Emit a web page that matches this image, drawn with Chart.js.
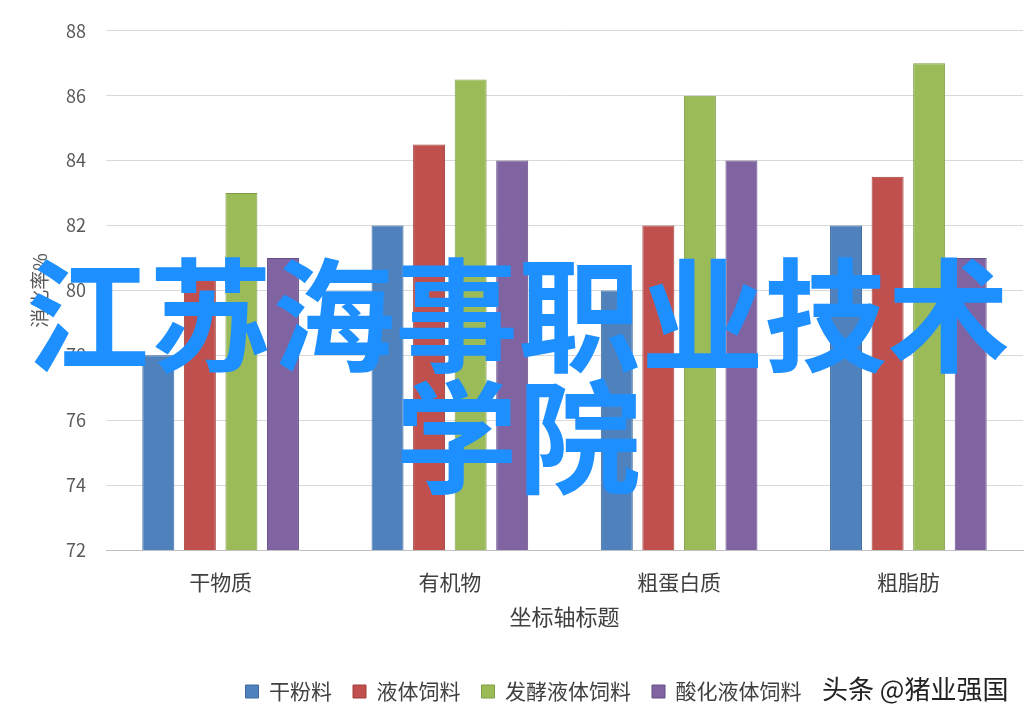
<!DOCTYPE html>
<html lang="zh">
<head>
<meta charset="UTF-8" />
<title>消化率</title>
<script src="https://cdn.jsdelivr.net/npm/chart.js@4/dist/chart.umd.min.js"></script>
<style>
  html, body { margin: 0; padding: 0; background: #fff; }
  #wrap { position: relative; width: 1036px; height: 720px; }
  #overlay {
    position: absolute; left: 0; top: 247px; width: 1036px;
    text-align: center; color: #1e8fff;
    font-family: "Noto Sans CJK SC", sans-serif; font-weight: 700;
    font-size: 123px; line-height: 122px; pointer-events: none;
  }
  #mark {
    position: absolute; left: 822px; top: 669px;
    font-family: "Noto Sans CJK SC", sans-serif; font-size: 26px; color: #222;
  }
</style>
</head>
<body>
<div id="wrap">
  <canvas id="myChart" width="1036" height="720"></canvas>
  <div id="overlay">江苏海事职业技术<br>学院</div>
  <div id="mark">头条 @猪业强国</div>
</div>
<script>
const categories = ["干物质", "有机物", "粗蛋白质", "粗脂肪"];
const seriesNames = ["干粉料", "液体饲料", "发酵液体饲料", "酸化液体饲料"];
const dryFeed = [78, 82, 80, 82];
const liquidFeed = [80.5, 84.5, 82, 83.5];
const fermentedFeed = [83, 86.5, 86, 87];
const acidifiedFeed = [81, 84, 84, 81];
const yTicks = [72, 74, 76, 78, 80, 82, 84, 86, 88];

const colors = ["#4f81bd", "#c0504d", "#9bbb59", "#8064a2"];
const borders = ["#3f6a9e", "#a03f3c", "#7f9c45", "#664f86"];
const values = [dryFeed, liquidFeed, fermentedFeed, acidifiedFeed];

const font = "'Noto Sans CJK SC', 'Noto Sans', sans-serif";
const ctx = document.getElementById("myChart").getContext("2d");

new Chart(ctx, {
  type: "bar",
  data: {
    labels: categories,
    datasets: values.map((v, i) => ({
      label: seriesNames[i],
      data: v,
      backgroundColor: colors[i],
      borderColor: borders[i],
      borderWidth: 1,
      barPercentage: 0.77,
      categoryPercentage: 0.725,
    })),
  },
  options: {
    responsive: false,
    animation: false,
    layout: { padding: { left: 24, right: 13, top: 28, bottom: 8 } },
    plugins: {
      tooltip: { enabled: false },
      legend: {
        position: "bottom",
        labels: {
          boxWidth: 13,
          boxHeight: 13,
          padding: 21,
          color: "#404040",
          font: { family: font, size: 21 },
        },
      },
    },
    scales: {
      x: {
        grid: { display: false, drawTicks: false },
        border: { color: "#bfbfbf" },
        ticks: { color: "#404040", font: { family: font, size: 21 }, padding: 19 },
        title: { display: true, text: "坐标轴标题", color: "#404040", font: { family: font, size: 22 }, padding: { top: 4, bottom: 30 } },
        afterFit(scale) { scale.height = 110; },
      },
      y: {
        min: 72,
        max: 88,
        afterBuildTicks(scale) { scale.ticks = yTicks.map((v) => ({ value: v })); },
        grid: { color: "#d9d9d9", drawTicks: false },
        border: { display: false },
        ticks: { color: "#595959", font: { family: font, size: 18 }, padding: 20 },
        title: { display: true, text: "消化率%", color: "#595959", font: { family: font, size: 19 } },
        afterFit(scale) { scale.width = 82; },
      },
    },
  },
});
</script>
</body>
</html>
